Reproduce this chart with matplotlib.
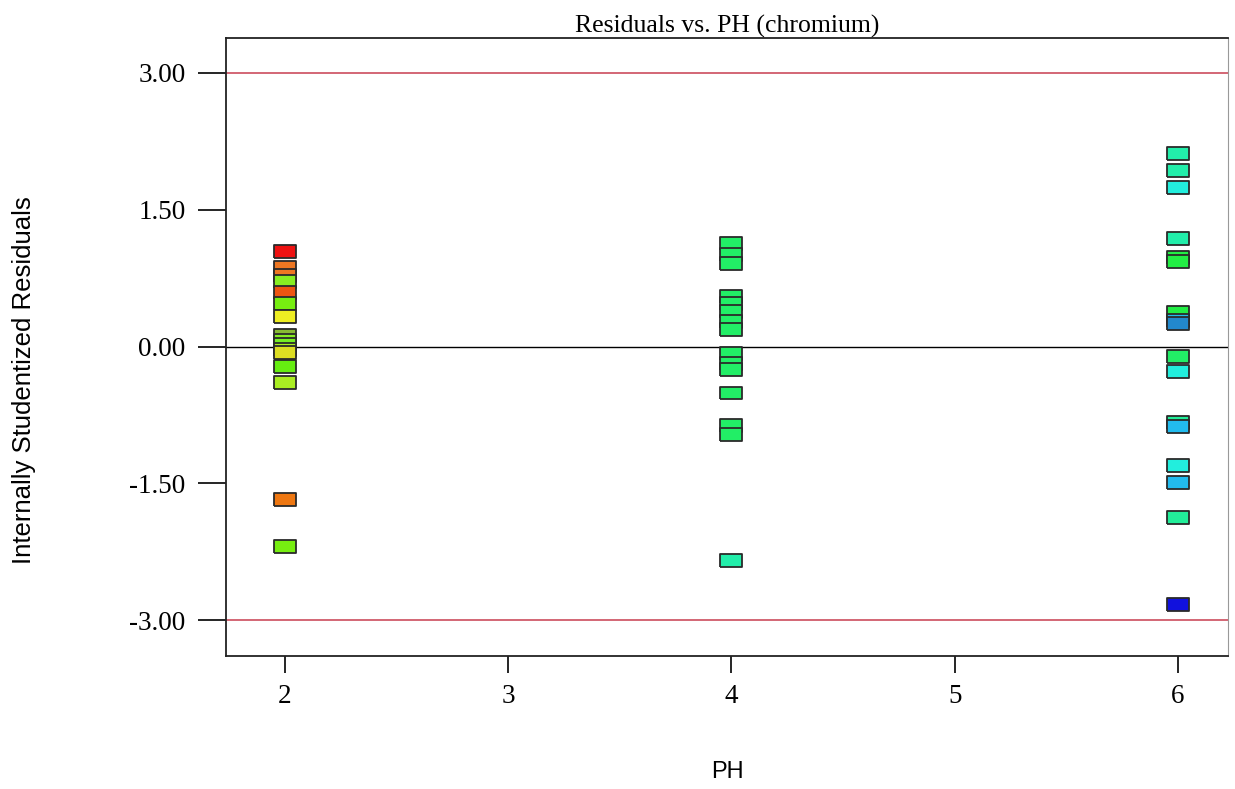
import numpy as np
import matplotlib
matplotlib.use("Agg")
import matplotlib.pyplot as plt

# residuals, grouped by PH level
ph2_res = [1.04, 0.87, 0.78, 0.71, 0.59, 0.47, 0.33, 0.12, 0.07, 0.02,
           -0.03, -0.07, -0.22, -0.40, -1.68, -2.19]
ph2_col = ['#ee1111', '#ee7722', '#ee7722', '#88ee22', '#ee5511', '#77ee11',
           '#eeee22', '#88bb33', '#88ee22', '#77ee22', '#aaee22', '#dddd22',
           '#66ee11', '#aaee22', '#ee7711', '#77ee11']

ph4_res = [1.13, 1.01, 0.91, 0.55, 0.47, 0.38, 0.27, 0.19, -0.08, -0.19,
           -0.25, -0.51, -0.87, -0.96, -2.35]
ph4_col = ['#22ee66'] * 14 + ['#22eeaa']

ph6_res = [2.12, 1.93, 1.74, 1.18, 0.98, 0.93, 0.37, 0.28, 0.25, -0.11,
           -0.27, -0.83, -0.88, -1.31, -1.49, -1.88, -2.83]
ph6_col = ['#22eeaa', '#22eeaa', '#22eedd', '#22eeaa', '#22ee44', '#22ee44',
           '#22ee44', '#22bbee', '#2288cc', '#22ee66', '#22eedd', '#22ee99',
           '#22bbee', '#22eedd', '#22bbee', '#22ee99', '#1111dd']

ph_levels = [2, 4, 6]
limit = 3.0
y_ticks = [-3.0, -1.5, 0.0, 1.5, 3.0]
x_ticks = [2, 3, 4, 5, 6]

serif = ['Liberation Serif', 'DejaVu Serif']
sans = ['Liberation Sans', 'DejaVu Sans']

fig = plt.figure(figsize=(12.35, 7.89), dpi=100)
ax = fig.add_axes([0.183, 0.1686, 0.8113, 0.7832])

# rectangular marker, wider than tall
rect = [(-11, -6.5), (11, -6.5), (11, 6.5), (-11, 6.5), (-11, -6.5)]

groups = [(ph2_res, ph2_col), (ph4_res, ph4_col), (ph6_res, ph6_col)]
for ph, (res, cols) in zip(ph_levels, groups):
    xs = np.full(len(res), ph)
    ax.scatter(xs, res, marker=rect, s=250, c=cols, edgecolors='#2a2a2a',
               linewidths=1.3, zorder=3)

ax.axhline(limit, color='#d05a6a', lw=1.3, zorder=1)
ax.axhline(-limit, color='#d05a6a', lw=1.3, zorder=1)
ax.axhline(0, color='black', lw=1.0, zorder=2)

ax.set_xlim(1.736, 6.224)
ax.set_ylim(-3.394, 3.383)
ax.set_xticks(x_ticks)
ax.set_yticks(y_ticks)
ax.set_yticklabels([f'{v:.2f}' for v in y_ticks])

ax.tick_params(axis='y', direction='out', length=20, width=1.2, pad=9,
               labelsize=19.5)
ax.tick_params(axis='x', direction='out', length=12, width=1.2, pad=8,
               labelsize=19.5)
for lab in ax.get_xticklabels() + ax.get_yticklabels():
    lab.set_family(serif)

for side in ['left', 'bottom', 'top']:
    ax.spines[side].set_linewidth(1.3)
    ax.spines[side].set_color('#222222')
ax.spines['right'].set_linewidth(0.8)
ax.spines['right'].set_color('#999999')

ax.set_title('Residuals vs. PH (chromium)', family=serif, fontsize=18.5, pad=3)
ax.set_ylabel('Internally Studentized Residuals', family=sans, fontsize=18.5)
ax.yaxis.set_label_coords(-0.19, 0.447)
ax.set_xlabel('PH', family=sans, fontsize=17)
ax.xaxis.set_label_coords(0.5, -0.17)

fig.savefig('out.png', dpi=100)
